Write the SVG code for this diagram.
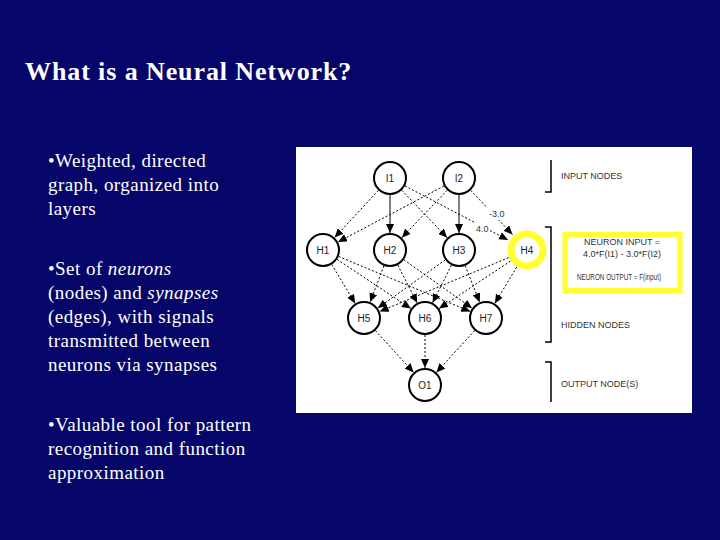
<svg xmlns="http://www.w3.org/2000/svg" width="720" height="540" viewBox="0 0 720 540">
<defs>
<marker id="ah" markerUnits="userSpaceOnUse" markerWidth="9" markerHeight="8" refX="9" refY="4" orient="auto"><path d="M0,0 L9,4 L0,8 Z" fill="#000"/></marker>
<style>
.title{font-family:"Liberation Serif",serif;font-weight:bold;font-size:26px;letter-spacing:0.9px;fill:#fff}
.body{font-family:"Liberation Serif",serif;font-size:19px;letter-spacing:0.45px;fill:#fff}
.node circle{fill:#fff;stroke:#000;stroke-width:2}
.node text{font-family:"Liberation Sans",Arial,sans-serif;font-size:10px;fill:#222;text-anchor:middle}
.e{stroke:#000;stroke-width:1;fill:none;marker-end:url(#ah)}
.d{stroke-dasharray:2 2}
.lbl{font-family:"Liberation Sans",Arial,sans-serif;font-size:9px;fill:#333}
.br{stroke:#000;stroke-width:1.5;fill:none}
</style>
</defs>
<rect width="720" height="540" fill="#06066a"/>
<text class="title" x="25" y="80">What is a Neural Network?</text>
<g id="bullets">
<text class="body" x="48" y="167">•Weighted, directed</text>
<text class="body" x="48" y="191">graph, organized into</text>
<text class="body" x="48" y="215">layers</text>
<text class="body" x="48" y="275">•Set of <tspan font-style="italic">neurons</tspan></text>
<text class="body" x="48" y="299">(nodes) and <tspan font-style="italic">synapses</tspan></text>
<text class="body" x="48" y="323">(edges), with signals</text>
<text class="body" x="48" y="347">transmitted between</text>
<text class="body" x="48" y="371">neurons via synapses</text>
<text class="body" x="48" y="431">•Valuable tool for pattern</text>
<text class="body" x="48" y="455">recognition and function</text>
<text class="body" x="48" y="479">approximation</text>
</g>
<rect x="296" y="147" width="396" height="266" fill="#fff"/>
<g id="connectors">
<line class="e d" x1="378.4" y1="190.4" x2="334.6" y2="237.6"/>
<line class="e" x1="390" y1="195" x2="390" y2="233"/>
<line class="e d" x1="401.8" y1="190.3" x2="447.2" y2="237.7"/>
<line class="e d" x1="405" y1="185.9" x2="508" y2="240"/>
<line class="e d" x1="444" y1="186" x2="338" y2="242"/>
<line class="e d" x1="447.2" y1="190.3" x2="401.8" y2="237.7"/>
<line class="e" x1="459" y1="195" x2="459" y2="233"/>
<line class="e d" x1="470.7" y1="190.4" x2="512.5" y2="234.6"/>
<line class="e d" x1="331.8" y1="264.6" x2="355.2" y2="303.4"/>
<line class="e d" x1="337.1" y1="259.4" x2="410.9" y2="308.6"/>
<line class="e d" x1="338.7" y1="256.5" x2="470.3" y2="311.5"/>
<line class="e d" x1="383.9" y1="265.9" x2="370.1" y2="302.1"/>
<line class="e d" x1="397.8" y1="265.1" x2="417.2" y2="302.9"/>
<line class="e d" x1="403.9" y1="259.8" x2="472.1" y2="308.2"/>
<line class="e d" x1="445.2" y1="259.9" x2="377.8" y2="308.1"/>
<line class="e d" x1="451.4" y1="265.2" x2="432.6" y2="302.8"/>
<line class="e d" x1="465.3" y1="265.8" x2="479.7" y2="302.2"/>
<line class="e d" x1="508.5" y1="257.7" x2="379.7" y2="311.5"/>
<line class="e d" x1="510.4" y1="261.1" x2="439.1" y2="308.6"/>
<line class="e d" x1="516.7" y1="267.1" x2="494.8" y2="303.4"/>
<line class="e d" x1="375.4" y1="330.6" x2="413.6" y2="372.4"/>
<line class="e d" x1="425" y1="335" x2="425" y2="368"/>
<line class="e d" x1="474.6" y1="330.6" x2="436.4" y2="372.4"/>
</g>
<g id="weights">
<rect x="487" y="208" width="19" height="12" fill="#fff"/>
<rect x="474" y="223" width="16" height="12" fill="#fff"/>
<text class="lbl" x="489" y="217">-3.0</text>
<text class="lbl" x="476" y="232">4.0</text>
</g>
<g id="I1" class="node"><circle cx="390" cy="178" r="16"/><text x="390" y="182">I1</text></g>
<g id="I2" class="node"><circle cx="459" cy="178" r="16"/><text x="459" y="182">I2</text></g>
<g id="H1" class="node"><circle cx="323" cy="250" r="16"/><text x="323" y="254">H1</text></g>
<g id="H2" class="node"><circle cx="390" cy="250" r="16"/><text x="390" y="254">H2</text></g>
<g id="H3" class="node"><circle cx="459" cy="250" r="16"/><text x="459" y="254">H3</text></g>
<g id="H4" class="node"><circle cx="527" cy="250" r="16" style="stroke:#ffff33;stroke-width:7"/><text x="527" y="254">H4</text></g>
<g id="H5" class="node"><circle cx="364" cy="318" r="16"/><text x="364" y="322">H5</text></g>
<g id="H6" class="node"><circle cx="425" cy="318" r="16"/><text x="425" y="322">H6</text></g>
<g id="H7" class="node"><circle cx="486" cy="318" r="16"/><text x="486" y="322">H7</text></g>
<g id="O1" class="node"><circle cx="425" cy="385" r="16"/><text x="425" y="389">O1</text></g>
<g id="legend">
<path class="br" d="M551,160 V192 H545"/>
<path class="br" d="M545,227 H551 V342 H545"/>
<path class="br" d="M545,362 H551 V402"/>
<text class="lbl" x="561" y="179">INPUT NODES</text>
<text class="lbl" x="561" y="328">HIDDEN NODES</text>
<text class="lbl" x="561" y="387">OUTPUT NODE(S)</text>
<rect x="565" y="234.5" width="115" height="56" fill="none" stroke="#ffff33" stroke-width="5"/>
<text class="lbl" x="622" y="245" text-anchor="middle">NEURON INPUT =</text>
<text class="lbl" x="622" y="257" text-anchor="middle">4.0*F(I1) - 3.0*F(I2)</text>
<text class="lbl" x="577" y="280" textLength="84" lengthAdjust="spacingAndGlyphs">NEURON OUTPUT = F(input)</text>
</g>
</svg>
